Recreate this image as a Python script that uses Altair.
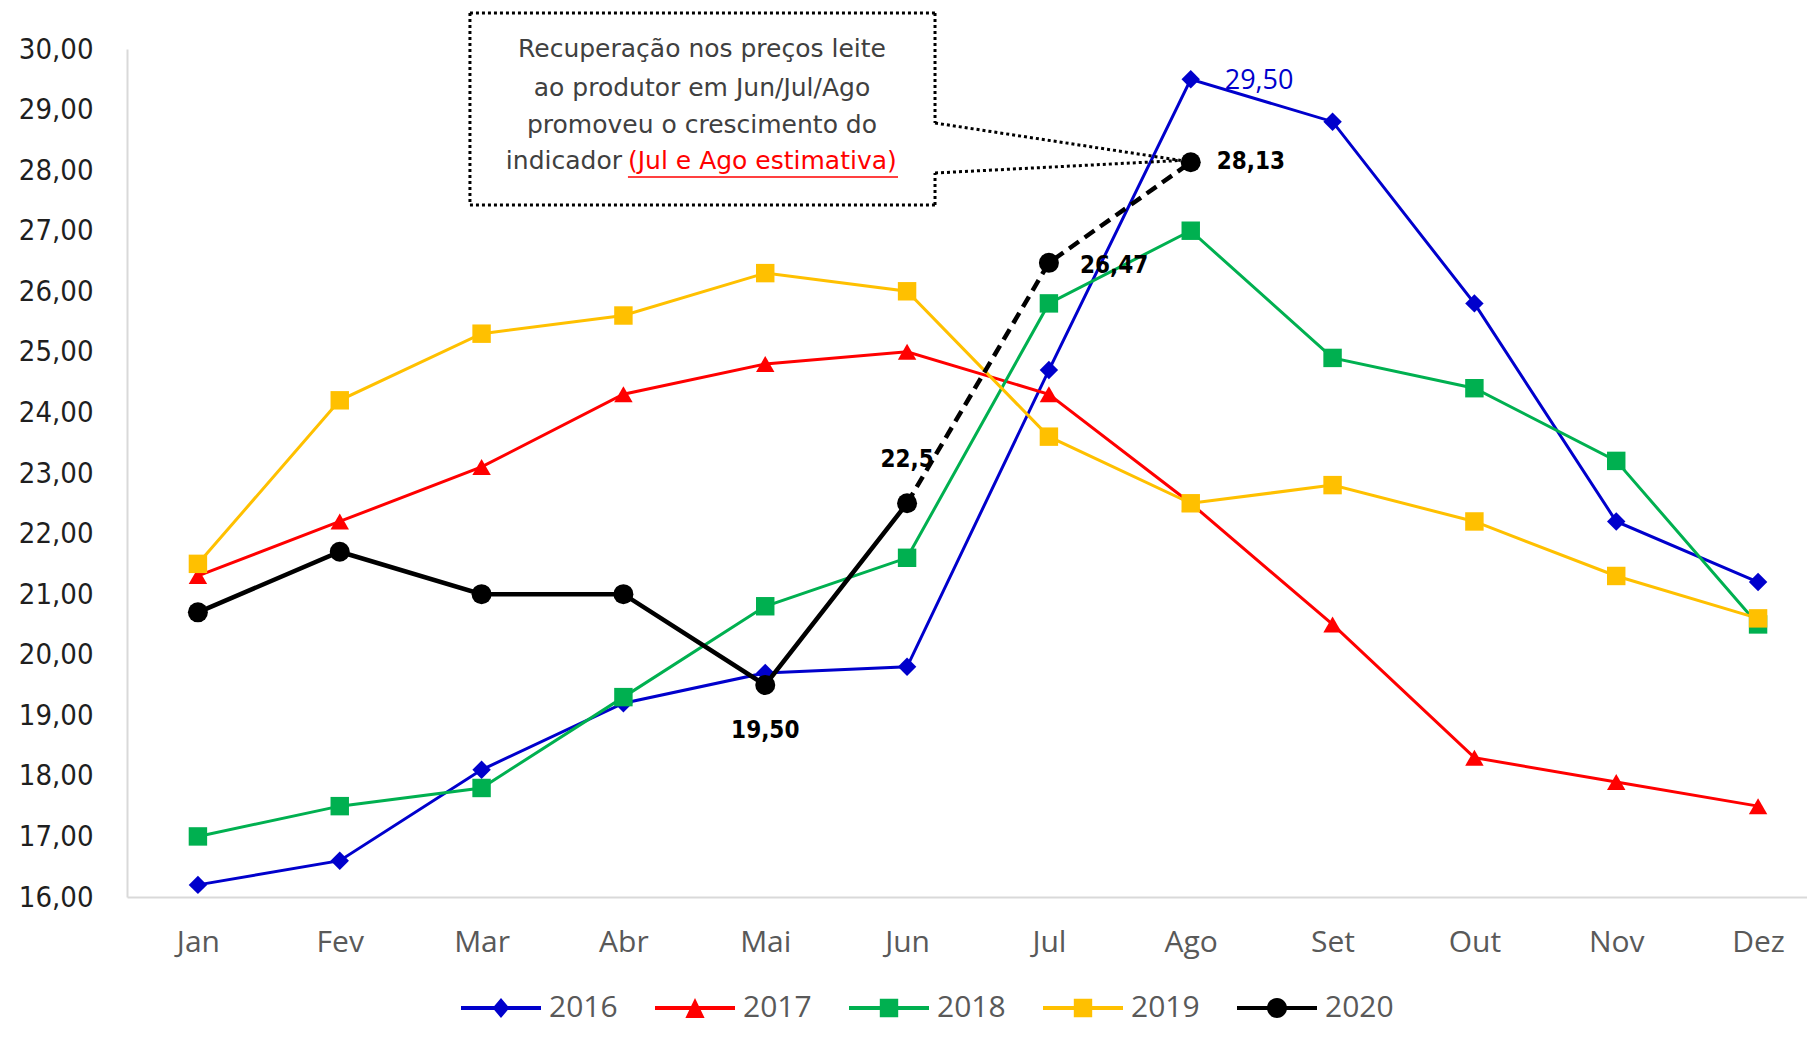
import json
import altair as alt
import pandas as pd

# ---------------- data ----------------
months = ["Jan", "Fev", "Mar", "Abr", "Mai", "Jun", "Jul", "Ago", "Set", "Out", "Nov", "Dez"]
years = ["2016", "2017", "2018", "2019", "2020"]
colors = ["#0000CC", "#FF0000", "#00B050", "#FFC000", "#000000"]

v2016 = [16.2, 16.6, 18.1, 19.2, 19.7, 19.8, 24.7, 29.5, 28.8, 25.8, 22.2, 21.2]
v2017 = [21.3, 22.2, 23.1, 24.3, 24.8, 25.0, 24.3, 22.5, 20.5, 18.3, 17.9, 17.5]
v2018 = [17.0, 17.5, 17.8, 19.3, 20.8, 21.6, 25.8, 27.0, 24.9, 24.4, 23.2, 20.5]
v2019 = [21.5, 24.2, 25.3, 25.6, 26.3, 26.0, 23.6, 22.5, 22.8, 22.2, 21.3, 20.6]
v2020 = [20.7, 21.7, 21.0, 21.0, 19.5, 22.5, 26.47, 28.13]

# data labels shown on the chart (month index -> text)
lbl2020_months = [4, 5, 6, 7]
lbl2020_text = ["19,50", "22,5", "26,47", "28,13"]
lbl2016_month = 7
lbl2016_text = "29,50"

annot_lines = ["Recuperação nos preços leite", "ao produtor  em Jun/Jul/Ago", "promoveu o crescimento do"]
annot_last_dark = "indicador"
annot_last_red = "(Jul e Ago estimativa)"

# ---------------- frames ----------------
rows = []
for y, vals in zip(years[:4], [v2016, v2017, v2018, v2019]):
    for i, v in enumerate(vals):
        rows.append({"year": y, "m": i, "v": v})
df_hist = pd.DataFrame(rows)
df_2020 = pd.DataFrame({"year": "2020", "m": list(range(len(v2020))), "v": v2020})
df_2020_solid = df_2020[df_2020["m"] <= 5]
df_2020_dash = df_2020[df_2020["m"] >= 5]
df_all = pd.concat([df_hist, df_2020], ignore_index=True)

# ---------------- encodings ----------------
month_expr = json.dumps(months) + "[datum.value]"
x_enc = alt.X(
    "m:Q",
    scale=alt.Scale(domain=[-0.5, 11.345], nice=False, zero=False),
    axis=alt.Axis(
        values=list(range(12)), labelExpr=month_expr, title=None, grid=False, ticks=False,
        domainColor="#D9D9D9", domainWidth=2, labelFont="Open Sans", labelFontSize=30,
        labelColor="#595959", labelPadding=30, labelFlush=False, labelOverlap=False,
    ),
)
y_enc = alt.Y(
    "v:Q",
    scale=alt.Scale(domain=[16, 30], nice=False, zero=False),
    axis=alt.Axis(
        values=list(range(16, 31)), labelExpr="replace(format(datum.value, '.2f'), '.', ',')",
        title=None, grid=False, ticks=False, domainColor="#D9D9D9", domainWidth=2,
        labelFont="DejaVu Sans Condensed, DejaVu Sans", labelFontSize=29, labelColor="#1F1F1F",
        labelPadding=34, labelOverlap=False,
    ),
)
color_scale = alt.Scale(domain=years, range=colors)

# ---------------- series ----------------
lines = alt.Chart(df_hist).mark_line(strokeWidth=3).encode(
    x=x_enc, y=y_enc, color=alt.Color("year:N", scale=color_scale, legend=None), detail="year:N"
)
points = alt.Chart(df_hist).mark_point(filled=True, opacity=1, size=340).encode(
    x=x_enc, y=y_enc,
    color=alt.Color("year:N", scale=color_scale, legend=None),
    shape=alt.Shape("year:N", scale=alt.Scale(domain=years[:4], range=["diamond", "triangle-up", "square", "square"]), legend=None),
)
line2020 = alt.Chart(df_2020_solid).mark_line(strokeWidth=4.5, color="#000000").encode(x=x_enc, y=y_enc)
dash2020 = alt.Chart(df_2020_dash).mark_line(strokeWidth=4.5, color="#000000", strokeDash=[12, 7]).encode(x=x_enc, y=y_enc)
pts2020 = alt.Chart(df_2020).mark_point(filled=True, opacity=1, size=400, shape="circle", color="#000000").encode(x=x_enc, y=y_enc)

# ---------------- legend (line + marker symbols) ----------------
bar = "M-1,-0.05L1,-0.05L1,0.05L-1,0.05Z"
legend_paths = [
    bar + "M0,-0.25L0.21,0L0,0.25L-0.21,0Z",
    bar + "M0,-0.25L0.24,0.25L-0.24,0.25Z",
    bar + "M-0.23,-0.23L0.23,-0.23L0.23,0.23L-0.23,0.23Z",
    bar + "M-0.23,-0.23L0.23,-0.23L0.23,0.23L-0.23,0.23Z",
    bar + "M-0.25,0A0.25,0.25 0 1,1 0.25,0A0.25,0.25 0 1,1 -0.25,0Z",
]
leg = alt.Legend(
    orient="none", legendX=334, legendY=919, direction="horizontal", columns=5, title=None,
    labelFont="Open Sans", labelFontSize=30, labelColor="#595959", labelOffset=8,
    symbolSize=6400, columnPadding=37, symbolStrokeWidth=0, padding=0,
)
legend_layer = alt.Chart(df_all).transform_filter("false").mark_point(filled=True, opacity=1, size=6400).encode(
    x=x_enc, y=y_enc,
    color=alt.Color("year:N", scale=color_scale, legend=leg),
    shape=alt.Shape("year:N", scale=alt.Scale(domain=years, range=legend_paths), legend=leg),
)

# ---------------- data labels ----------------
def label(m, v, txt, dx, dy, align, **style):
    return alt.Chart(pd.DataFrame({"m": [m], "v": [v], "txt": [txt]})).mark_text(
        dx=dx, dy=dy, align=align, baseline="middle", **style
    ).encode(x=x_enc, y=y_enc, text="txt:N")

bold = dict(font="DejaVu Sans Condensed, DejaVu Sans", fontWeight="bold", fontSize=24, color="#000000")
lab_layers = [
    label(lbl2020_months[0], v2020[4], lbl2020_text[0], 0, 46, "center", **bold),
    label(lbl2020_months[1], v2020[5], lbl2020_text[1], 0, -43, "center", **bold),
    label(lbl2020_months[2], v2020[6], lbl2020_text[2], 31, 3, "left", **bold),
    label(lbl2020_months[3], v2020[7], lbl2020_text[3], 26, 0, "left", **bold),
    label(lbl2016_month, v2016[7], lbl2016_text, 34, 2, "left", font="Open Sans", fontSize=27, color="#0000CC"),
]

# ---------------- annotation callout ----------------
bx0, bx1, by0, by1 = 1.918, 5.197, 30.594, 27.424
p_hi, p_lo, tip_m, tip_v = 28.778, 27.953, 6.93, 28.16
box_fill = alt.Chart(pd.DataFrame({"m": [bx0], "m2": [bx1], "v": [by0], "v2": [by1]})).mark_rect(
    fill="white"
).encode(x=x_enc, x2="m2:Q", y=y_enc, y2="v2:Q")
seg = pd.DataFrame({
    "m":  [bx0, bx0, bx0, bx1, bx1, bx1, bx1],
    "v":  [by0, by1, by0, by0, by1, p_hi, p_lo],
    "m2": [bx1, bx1, bx0, bx1, bx1, tip_m, tip_m],
    "v2": [by0, by1, by1, p_hi, p_lo, tip_v, tip_v],
})
box_lines = alt.Chart(seg).mark_rule(color="#000000", strokeWidth=3, strokeDash=[3, 3]).encode(
    x=x_enc, x2="m2:Q", y=y_enc, y2="v2:Q"
)
txt_df = pd.DataFrame({"m": [3.554] * 3, "v": [29.868, 29.224, 28.613], "txt": annot_lines})
annot_text = alt.Chart(txt_df).mark_text(
    align="center", baseline="alphabetic", font="DejaVu Sans", fontSize=25, color="#404040"
).encode(x=x_enc, y=y_enc, text="txt:N")
dark_last = alt.Chart(pd.DataFrame({"m": [2.99], "v": [28.019], "txt": [annot_last_dark]})).mark_text(
    align="right", baseline="alphabetic", font="DejaVu Sans", fontSize=25, color="#404040"
).encode(x=x_enc, y=y_enc, text="txt:N")
red_last = alt.Chart(pd.DataFrame({"m": [3.032], "v": [28.019], "txt": [annot_last_red]})).mark_text(
    align="left", baseline="alphabetic", font="DejaVu Sans", fontSize=25, color="#FF0000"
).encode(x=x_enc, y=y_enc, text="txt:N")
underline = alt.Chart(pd.DataFrame({"m": [3.032], "m2": [4.936], "v": [27.887], "v2": [27.887]})).mark_rule(
    color="#FF0000", strokeWidth=1.5
).encode(x=x_enc, x2="m2:Q", y=y_enc, y2="v2:Q")

chart = alt.layer(
    lines, points, line2020, dash2020, pts2020, legend_layer,
    box_fill, box_lines, annot_text, dark_last, red_last, underline,
    *lab_layers,
).resolve_scale(color="independent", shape="independent").properties(
    width=1680, height=848,
    autosize=alt.AutoSizeParams(type="none"),
    padding={"left": 119, "top": 41, "right": 0, "bottom": 131},
    background="white",
).configure_view(stroke=None)

chart.save("out.html", embed_options={"renderer": "svg", "actions": False})
